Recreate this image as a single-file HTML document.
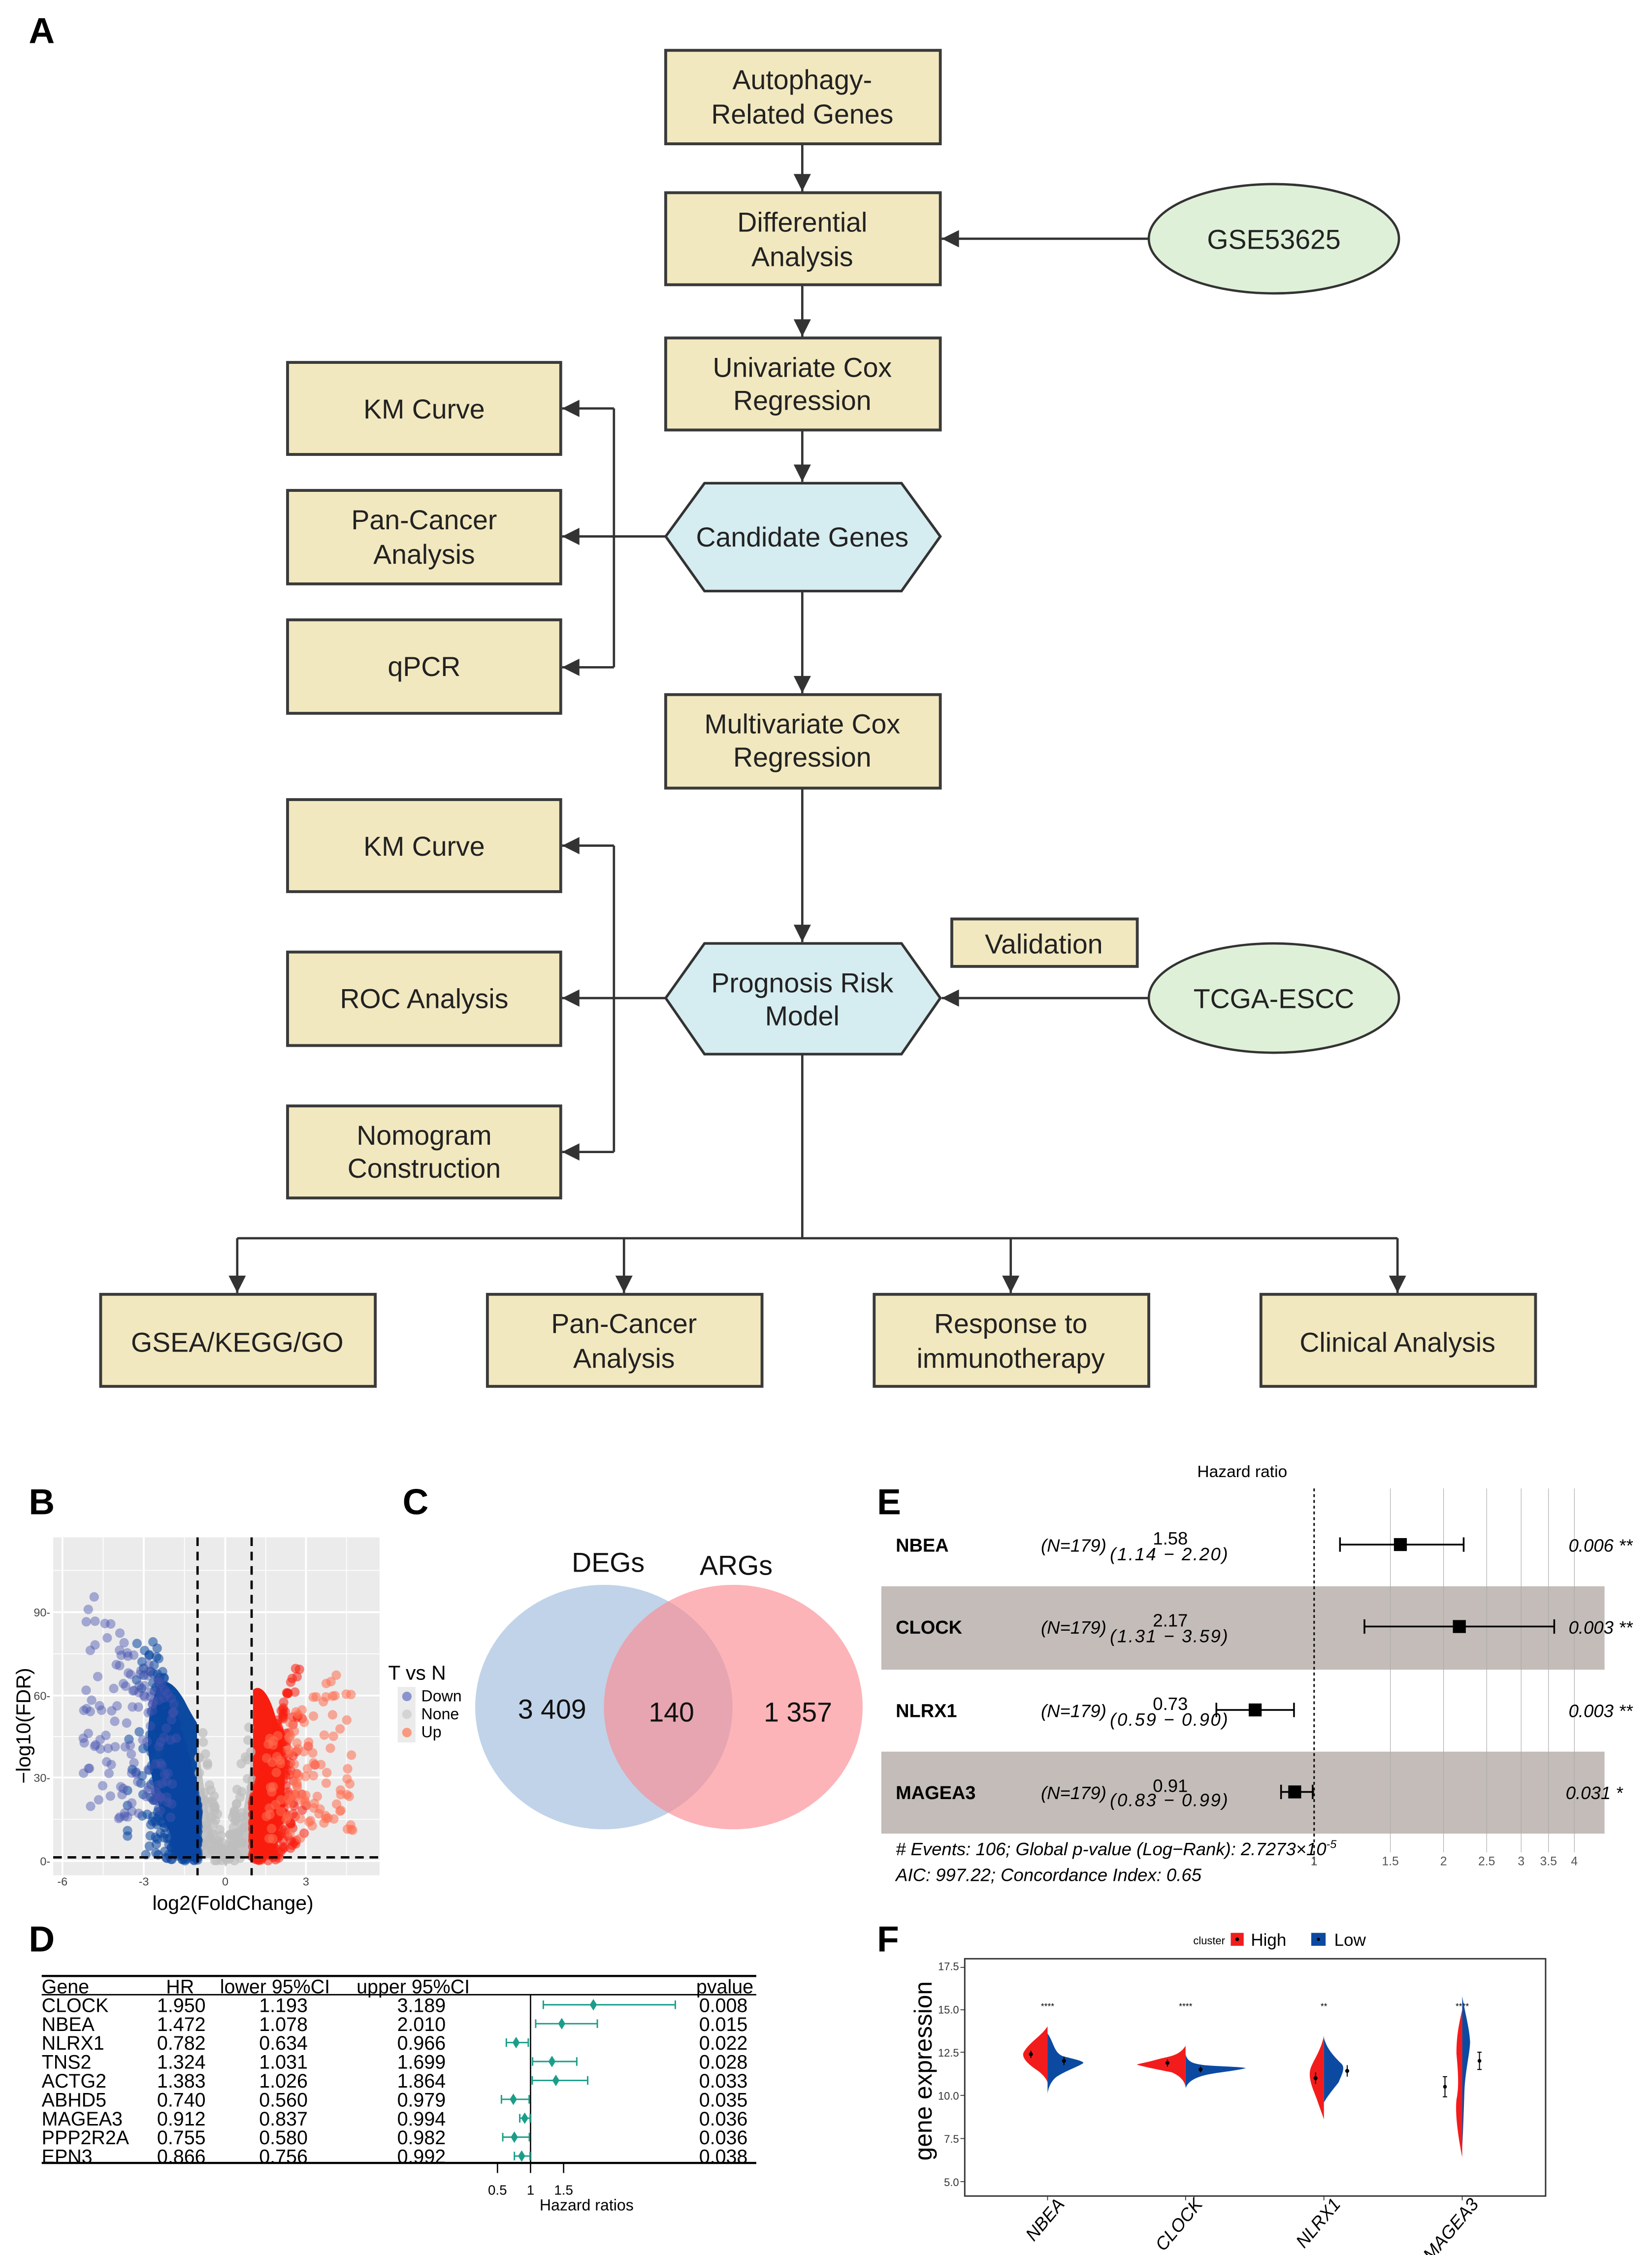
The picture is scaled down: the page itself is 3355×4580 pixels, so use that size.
<!DOCTYPE html>
<html><head><meta charset="utf-8">
<style>
html,body{margin:0;padding:0;background:#fff;}
svg{display:block;}
.fc{font-family:"Liberation Sans",sans-serif;font-size:19px;fill:#222;text-anchor:middle;}
.bx{fill:#f2e8bf;stroke:#3a3a3a;stroke-width:2;}
.ln{stroke:#333;stroke-width:1.6;fill:none;}
.lab{font-family:"Liberation Sans",sans-serif;font-weight:bold;font-size:25px;fill:#000;}
.n{font-family:"Liberation Sans Narrow","Liberation Sans",sans-serif;}
</style></head>
<body>
<svg id="s" width="3355" height="4580" viewBox="0 0 1149 1568" preserveAspectRatio="none" xmlns="http://www.w3.org/2000/svg">
<defs>
<marker id="arw" viewBox="0 0 10 10" refX="10" refY="5" markerWidth="14" markerHeight="12" orient="auto" markerUnits="userSpaceOnUse">
<path d="M0,0 L10,5 L0,10 z" fill="#333"/></marker>
<clipPath id="cpB"><rect x="37" y="1069" width="227" height="235"/></clipPath>
</defs>

<!-- ===== Panel A ===== -->
<text class="lab" x="20" y="30">A</text>
<line class="ln" x1="558" y1="100" x2="558" y2="133" marker-end="url(#arw)"/>
<line class="ln" x1="558" y1="198" x2="558" y2="234" marker-end="url(#arw)"/>
<line class="ln" x1="558" y1="299" x2="558" y2="335" marker-end="url(#arw)"/>
<line class="ln" x1="558" y1="411" x2="558" y2="482" marker-end="url(#arw)"/>
<line class="ln" x1="558" y1="548" x2="558" y2="655" marker-end="url(#arw)"/>
<line class="ln" x1="799" y1="166" x2="655" y2="166" stroke-width="2.5" marker-end="url(#arw)"/>
<line class="ln" x1="799" y1="694" x2="655" y2="694" stroke-width="2.5" marker-end="url(#arw)"/>
<polyline class="ln" points="427,284 427,464"/>
<line class="ln" x1="427" y1="284" x2="391" y2="284" marker-end="url(#arw)"/>
<line class="ln" x1="463" y1="373" x2="391" y2="373" marker-end="url(#arw)" stroke-width="2.2"/>
<line class="ln" x1="427" y1="464" x2="391" y2="464" marker-end="url(#arw)"/>
<polyline class="ln" points="427,588 427,801"/>
<line class="ln" x1="427" y1="588" x2="391" y2="588" marker-end="url(#arw)"/>
<line class="ln" x1="463" y1="694" x2="391" y2="694" marker-end="url(#arw)" stroke-width="2.2"/>
<line class="ln" x1="427" y1="801" x2="391" y2="801" marker-end="url(#arw)"/>
<line class="ln" x1="558" y1="733" x2="558" y2="861"/>
<line class="ln" x1="165" y1="861" x2="972" y2="861" stroke-width="2.2"/>
<line class="ln" x1="165" y1="861" x2="165" y2="899" marker-end="url(#arw)"/>
<line class="ln" x1="434" y1="861" x2="434" y2="899" marker-end="url(#arw)"/>
<line class="ln" x1="703" y1="861" x2="703" y2="899" marker-end="url(#arw)"/>
<line class="ln" x1="972" y1="861" x2="972" y2="899" marker-end="url(#arw)"/>

<rect class="bx" x="463" y="35" width="191" height="65"/>
<text class="fc" x="558" y="62">Autophagy-</text><text class="fc" x="558" y="86">Related Genes</text>
<rect class="bx" x="463" y="134" width="191" height="64"/>
<text class="fc" x="558" y="161">Differential</text><text class="fc" x="558" y="185">Analysis</text>
<ellipse cx="886" cy="166" rx="87" ry="38" fill="#dff0d8" stroke="#333" stroke-width="1.6"/>
<text class="fc" x="886" y="173">GSE53625</text>
<rect class="bx" x="463" y="235" width="191" height="64"/>
<text class="fc" x="558" y="262">Univariate Cox</text><text class="fc" x="558" y="285">Regression</text>
<polygon points="463,373 490,336 627,336 654,373 627,411 490,411" fill="#d5ecf0" stroke="#333" stroke-width="1.8"/>
<text class="fc" x="558" y="380">Candidate Genes</text>
<rect class="bx" x="200" y="252" width="190" height="64"/>
<text class="fc" x="295" y="291">KM Curve</text>
<rect class="bx" x="200" y="341" width="190" height="65"/>
<text class="fc" x="295" y="368">Pan-Cancer</text><text class="fc" x="295" y="392">Analysis</text>
<rect class="bx" x="200" y="431" width="190" height="65"/>
<text class="fc" x="295" y="470">qPCR</text>
<rect class="bx" x="463" y="483" width="191" height="65"/>
<text class="fc" x="558" y="510">Multivariate Cox</text><text class="fc" x="558" y="533">Regression</text>
<rect class="bx" x="200" y="556" width="190" height="64"/>
<text class="fc" x="295" y="595">KM Curve</text>
<rect class="bx" x="200" y="662" width="190" height="65"/>
<text class="fc" x="295" y="701">ROC Analysis</text>
<rect class="bx" x="200" y="769" width="190" height="64"/>
<text class="fc" x="295" y="796">Nomogram</text><text class="fc" x="295" y="819">Construction</text>
<polygon points="463,694 490,656 627,656 654,694 627,733 490,733" fill="#d5ecf0" stroke="#333" stroke-width="1.8"/>
<text class="fc" x="558" y="690">Prognosis Risk</text><text class="fc" x="558" y="713">Model</text>
<rect class="bx" x="662" y="639" width="129" height="33"/>
<text class="fc" x="726" y="663">Validation</text>
<ellipse cx="886" cy="694" rx="87" ry="38" fill="#dff0d8" stroke="#333" stroke-width="1.6"/>
<text class="fc" x="886" y="701">TCGA-ESCC</text>
<rect class="bx" x="70" y="900" width="191" height="64"/>
<text class="fc" x="165" y="940">GSEA/KEGG/GO</text>
<rect class="bx" x="339" y="900" width="191" height="64"/>
<text class="fc" x="434" y="927">Pan-Cancer</text><text class="fc" x="434" y="951">Analysis</text>
<rect class="bx" x="608" y="900" width="191" height="64"/>
<text class="fc" x="703" y="927">Response to</text><text class="fc" x="703" y="951">immunotherapy</text>
<rect class="bx" x="877" y="900" width="191" height="64"/>
<text class="fc" x="972" y="940">Clinical Analysis</text>

<!-- ===== Panel B ===== -->
<text class="lab" x="20" y="1053">B</text>
<rect x="37" y="1069" width="227" height="235" fill="#ebebeb"/>
<g stroke="#fff" stroke-width="0.6">
<line x1="71.7" y1="1069" x2="71.7" y2="1304"/><line x1="128.3" y1="1069" x2="128.3" y2="1304"/><line x1="184.8" y1="1069" x2="184.8" y2="1304"/><line x1="241" y1="1069" x2="241" y2="1304"/>
<line x1="37" y1="1265" x2="264" y2="1265"/><line x1="37" y1="1207.5" x2="264" y2="1207.5"/><line x1="37" y1="1150" x2="264" y2="1150"/><line x1="37" y1="1092" x2="264" y2="1092"/>
</g>
<g stroke="#fff" stroke-width="1.3">
<line x1="43.4" y1="1069" x2="43.4" y2="1304"/><line x1="100" y1="1069" x2="100" y2="1304"/><line x1="156.7" y1="1069" x2="156.7" y2="1304"/><line x1="212.8" y1="1069" x2="212.8" y2="1304"/>
<line x1="37" y1="1294" x2="264" y2="1294"/><line x1="37" y1="1236" x2="264" y2="1236"/><line x1="37" y1="1179" x2="264" y2="1179"/><line x1="37" y1="1121" x2="264" y2="1121"/>
</g>
<g clip-path="url(#cpB)">
<path d="M137,1205 C142,1250 148,1285 157,1298 C166,1285 172,1250 176,1210 L176,1292 L137,1292 Z" fill="#c4c4c4"/>
<path d="M137,1292 L126,1286 C116,1274 108,1255 104,1225 C101,1205 104,1185 110,1172 C116,1166 122,1172 128,1182 C132,1190 135,1195 137,1198 Z" fill="#0b4aa0"/>
<path d="M176,1292 L176,1175 C182,1170 188,1180 192,1195 C198,1215 200,1240 196,1262 C192,1278 186,1287 176,1292 Z" fill="#f81f10"/>
<g id="scat"></g>
</g>
<line x1="137.4" y1="1069" x2="137.4" y2="1304" stroke="#000" stroke-width="1.6" stroke-dasharray="6,4"/>
<line x1="175" y1="1069" x2="175" y2="1304" stroke="#000" stroke-width="1.6" stroke-dasharray="6,4"/>
<line x1="37" y1="1291.5" x2="264" y2="1291.5" stroke="#000" stroke-width="1.6" stroke-dasharray="6,4"/>
<g class="n" font-size="8" fill="#444">
<text x="43.4" y="1311" text-anchor="middle">-6</text><text x="100" y="1311" text-anchor="middle">-3</text><text x="156.7" y="1311" text-anchor="middle">0</text><text x="212.8" y="1311" text-anchor="middle">3</text>
<text x="35" y="1297" text-anchor="end">0-</text><text x="35" y="1239" text-anchor="end">30-</text><text x="35" y="1182" text-anchor="end">60-</text><text x="35" y="1124" text-anchor="end">90-</text>
</g>
<text x="162" y="1328" font-family="Liberation Sans,sans-serif" font-size="14" text-anchor="middle">log2(FoldChange)</text>
<text transform="translate(21,1200) rotate(-90)" font-family="Liberation Sans,sans-serif" font-size="14" text-anchor="middle">−log10(FDR)</text>
<text x="270" y="1168" font-family="Liberation Sans,sans-serif" font-size="14">T vs N</text>
<rect x="276.6" y="1173" width="12.4" height="38.6" fill="#ebebeb"/>
<circle cx="283" cy="1179.6" r="3.3" fill="#8a93cc"/><circle cx="283" cy="1192" r="3.3" fill="#d4d4d4"/><circle cx="283" cy="1204.7" r="3.3" fill="#f99a80"/>
<g font-family="Liberation Sans,sans-serif" font-size="11"><text x="293" y="1183">Down</text><text x="293" y="1195.5">None</text><text x="293" y="1208">Up</text></g>

<!-- ===== Panel C ===== -->
<text class="lab" x="280" y="1053">C</text>
<ellipse cx="420" cy="1187" rx="89.5" ry="85" fill="#c0d3e9"/>
<ellipse cx="510" cy="1187" rx="90" ry="85" fill="#fa8c92" fill-opacity="0.65"/>
<g font-family="Liberation Sans,sans-serif" font-size="19" text-anchor="middle" fill="#111">
<text x="423" y="1093">DEGs</text><text x="512" y="1095">ARGs</text>
<text x="384" y="1195">3 409</text><text x="467" y="1197">140</text><text x="555" y="1197">1 357</text>
</g>

<!-- ===== Panel E ===== -->
<text class="lab" x="610" y="1053">E</text>
<text x="864" y="1027" font-family="Liberation Sans,sans-serif" font-size="11.5" text-anchor="middle">Hazard ratio</text>
<rect x="613" y="1103" width="503" height="58" fill="#c3bcb8"/>
<rect x="613" y="1218" width="503" height="57" fill="#c3bcb8"/>
<g stroke="#aaa" stroke-width="0.4">
<line x1="967" y1="1035" x2="967" y2="1288"/><line x1="1004" y1="1035" x2="1004" y2="1288"/><line x1="1034" y1="1035" x2="1034" y2="1288"/><line x1="1058" y1="1035" x2="1058" y2="1288"/><line x1="1077" y1="1035" x2="1077" y2="1288"/><line x1="1095" y1="1035" x2="1095" y2="1288"/>
</g>
<line x1="914" y1="1035" x2="914" y2="1297" stroke="#000" stroke-width="1" stroke-dasharray="2,2"/>
<g font-family="Liberation Sans,sans-serif" font-size="8.5" fill="#555" text-anchor="middle">
<text x="914" y="1297">1</text><text x="967" y="1297">1.5</text><text x="1004" y="1297">2</text><text x="1034" y="1297">2.5</text><text x="1058" y="1297">3</text><text x="1077" y="1297">3.5</text><text x="1095" y="1297">4</text>
</g>
<g font-family="Liberation Sans,sans-serif" font-size="13">
<g font-weight="bold"><text x="623" y="1079">NBEA</text><text x="623" y="1136">CLOCK</text><text x="623" y="1194">NLRX1</text><text x="623" y="1251">MAGEA3</text></g>
<g font-style="italic" font-size="12.5">
<text x="724" y="1079">(N=179)</text><text x="724" y="1136">(N=179)</text><text x="724" y="1194">(N=179)</text><text x="724" y="1251">(N=179)</text>
<text x="772" y="1085" textLength="82">(1.14 − 2.20)</text><text x="772" y="1142" textLength="82">(1.31 − 3.59)</text><text x="772" y="1200" textLength="82">(0.59 − 0.90)</text><text x="772" y="1256" textLength="82">(0.83 − 0.99)</text>
<text x="1091" y="1079">0.006 **</text><text x="1091" y="1136">0.003 **</text><text x="1091" y="1194">0.003 **</text><text x="1089" y="1251">0.031 *</text>
</g>
<g font-size="12.5" text-anchor="middle"><text x="814" y="1074">1.58</text><text x="814" y="1131">2.17</text><text x="814" y="1189">0.73</text><text x="814" y="1246">0.91</text></g>
<g font-style="italic" font-size="12.5"><text x="623" y="1290"># Events: 106; Global p-value (Log−Rank): 2.7273×10<tspan dy="-5" font-size="8">-5</tspan></text>
<text x="623" y="1308">AIC: 997.22; Concordance Index: 0.65</text></g>
</g>
<g stroke="#000" stroke-width="1.2">
<line x1="932" y1="1074" x2="1018" y2="1074"/><line x1="932" y1="1069" x2="932" y2="1079"/><line x1="1018" y1="1069" x2="1018" y2="1079"/>
<line x1="949" y1="1131" x2="1081" y2="1131"/><line x1="949" y1="1126" x2="949" y2="1136"/><line x1="1081" y1="1126" x2="1081" y2="1136"/>
<line x1="846" y1="1189" x2="900" y2="1189"/><line x1="846" y1="1184" x2="846" y2="1194"/><line x1="900" y1="1184" x2="900" y2="1194"/>
<line x1="891" y1="1246" x2="914" y2="1246"/><line x1="891" y1="1241" x2="891" y2="1251"/><line x1="913" y1="1241" x2="913" y2="1251"/>
</g>
<rect x="969.5" y="1069.5" width="9" height="9"/><rect x="1010.5" y="1126.5" width="9" height="9"/><rect x="868.5" y="1184.5" width="9" height="9"/><rect x="896" y="1241.5" width="9" height="9"/>

<!-- ===== Panel D ===== -->
<text class="lab" x="20" y="1357">D</text>
<line x1="29" y1="1374" x2="526" y2="1374" stroke="#000" stroke-width="1.5"/>
<line x1="29" y1="1387" x2="526" y2="1387" stroke="#000" stroke-width="1"/>
<line x1="29" y1="1504" x2="526" y2="1504" stroke="#000" stroke-width="1.5"/>
<line x1="369" y1="1387" x2="369" y2="1511" stroke="#000" stroke-width="0.9"/>
<line x1="346" y1="1504" x2="346" y2="1511" stroke="#000" stroke-width="0.9"/>
<line x1="392" y1="1504" x2="392" y2="1511" stroke="#000" stroke-width="0.9"/>
<g class="n" font-size="13.5" fill="#000">
<text x="29" y="1386">Gene</text><text x="135" y="1386" text-anchor="end">HR</text><text x="153" y="1386">lower 95%CI</text><text x="248" y="1386">upper 95%CI</text><text x="524" y="1386" text-anchor="end">pvalue</text>
</g>
<g id="drows" class="n" font-size="13.5"></g>
<g class="n" font-size="9.5" text-anchor="middle"><text x="346" y="1526">0.5</text><text x="369" y="1526">1</text><text x="392" y="1526">1.5</text></g>
<text x="408" y="1537" class="n" font-size="11" text-anchor="middle">Hazard ratios</text>

<!-- ===== Panel F ===== -->
<text class="lab" x="610" y="1357">F</text>
<g font-family="Liberation Sans,sans-serif">
<text x="841" y="1352" font-size="7.5" text-anchor="middle">cluster</text>
<rect x="856" y="1344" width="9" height="9" fill="#f31c1c"/><circle cx="860.5" cy="1348.5" r="1.3"/>
<text x="870" y="1353" font-size="12">High</text>
<rect x="912" y="1344" width="10" height="9" fill="#0c4aa2"/><circle cx="917" cy="1348.5" r="1.1"/>
<text x="928" y="1353" font-size="12">Low</text>
</g>
<rect x="671" y="1362" width="404" height="165" fill="#fff" stroke="#333" stroke-width="1"/>
<g class="n" font-size="7.5" text-anchor="end" fill="#333">
<text x="667" y="1370">17.5</text><text x="667" y="1400">15.0</text><text x="667" y="1430">12.5</text><text x="667" y="1460">10.0</text><text x="667" y="1490">7.5</text><text x="667" y="1520">5.0</text>
</g>
<g stroke="#333" stroke-width="0.6">
<line x1="668" y1="1368" x2="671" y2="1368"/><line x1="668" y1="1397.5" x2="671" y2="1397.5"/><line x1="668" y1="1427" x2="671" y2="1427"/><line x1="668" y1="1457" x2="671" y2="1457"/><line x1="668" y1="1487" x2="671" y2="1487"/><line x1="668" y1="1517" x2="671" y2="1517"/>
<line x1="728.6" y1="1527" x2="728.6" y2="1530"/><line x1="824.6" y1="1527" x2="824.6" y2="1530"/><line x1="920.8" y1="1527" x2="920.8" y2="1530"/><line x1="1017" y1="1527" x2="1017" y2="1530"/>
</g>
<text transform="translate(648,1440) rotate(-90)" font-family="Liberation Sans,sans-serif" font-size="17" text-anchor="middle">gene expression</text>
<g font-family="Liberation Sans,sans-serif" font-size="6" text-anchor="middle"><text x="728.6" y="1397">****</text><text x="824.6" y="1397">****</text><text x="920.8" y="1397">**</text><text x="1017" y="1397">****</text></g>
<path d="M728.6,1409 C724,1416 716,1420 712,1427 C710,1431 716,1436 722,1440 C726,1443 728,1446 728.6,1448 Z" fill="#f31c1c"/>
<path d="M728.6,1414 C733,1420 733,1428 740,1430 C748,1432 753,1433 753.6,1434.5 C750,1437 741,1440 735,1444 C731,1447 729,1452 728.6,1456 Z" fill="#0c4aa2"/>
<path d="M824.6,1422.5 C820,1430 812,1430 805,1432 C798,1434 792,1435 790.6,1435.6 C795,1437 805,1439 815,1441 C822,1444 824,1448 824.6,1451 Z" fill="#f31c1c"/>
<path d="M824.6,1428.4 C826,1434 830,1435 838,1436 C850,1437 862,1437 866.6,1438 C860,1440 846,1441 838,1443 C830,1445 826,1448 824.6,1452 Z" fill="#0c4aa2"/>
<path d="M920.8,1415.4 C919,1425 914,1432 912,1437 C909,1444 913,1452 916,1460 C918,1466 920,1471 920.8,1473.7 Z" fill="#f31c1c"/>
<path d="M920.8,1417 C923,1425 928,1430 933,1435 C936,1438 933,1443 931,1448 C927,1453 923,1458 920.8,1462 Z" fill="#0c4aa2"/>
<path d="M1017,1397.5 C1014,1410 1013,1418 1013,1428 C1014,1440 1015,1450 1013,1460 C1012,1470 1014,1485 1017,1500 Z" fill="#f31c1c"/>
<path d="M1017,1388 C1019,1400 1022,1410 1022.5,1420 C1022,1430 1019,1440 1018.5,1455 C1018,1470 1017.5,1485 1017,1493 Z" fill="#0c4aa2"/>
<g stroke="#000" stroke-width="0.7">
<line x1="717" y1="1426" x2="717" y2="1431"/><line x1="740" y1="1430" x2="740" y2="1436"/>
<line x1="812" y1="1432" x2="812" y2="1437"/><line x1="835" y1="1437" x2="835" y2="1441"/>
<line x1="915" y1="1441" x2="915" y2="1449"/><line x1="937" y1="1436" x2="937" y2="1444"/>
<line x1="1005" y1="1444" x2="1005" y2="1458"/><line x1="1003.5" y1="1444" x2="1006.5" y2="1444"/><line x1="1003.5" y1="1458" x2="1006.5" y2="1458"/>
<line x1="1029" y1="1427" x2="1029" y2="1439"/><line x1="1027.5" y1="1427" x2="1030.5" y2="1427"/><line x1="1027.5" y1="1439" x2="1030.5" y2="1439"/>
</g>
<g fill="#000"><circle cx="717" cy="1428.4" r="1.4"/><circle cx="740" cy="1433" r="1.4"/><circle cx="812" cy="1434.4" r="1.4"/><circle cx="835" cy="1439" r="1.4"/><circle cx="915" cy="1445" r="1.4"/><circle cx="937" cy="1440" r="1.4"/><circle cx="1005" cy="1451" r="1.3"/><circle cx="1029" cy="1433" r="1.3"/></g>
<g font-family="Liberation Sans,sans-serif" font-size="12.5" font-style="italic" text-anchor="end">
<text transform="translate(741,1533) rotate(-50)">NBEA</text>
<text transform="translate(837,1533) rotate(-50)">CLOCK</text>
<text transform="translate(933,1533) rotate(-50)">NLRX1</text>
<text transform="translate(1029,1533) rotate(-50)">MAGEA3</text>
</g>
</svg>
<script>
(function(){
var NS="http://www.w3.org/2000/svg";
var seed=12345;function r(){seed=(seed*1103515245+12345)%2147483648;return seed/2147483648;}
function gs(){return Math.sqrt(-2*Math.log(r()+1e-9))*Math.cos(6.2832*r());}
var g=document.getElementById("scat");
function X(v){return 156.7+v*18.9;}function Y(v){return 1294-v*1.92;}
function dot(x,y,c){var e=document.createElementNS(NS,"circle");e.setAttribute("cx",x.toFixed(1));e.setAttribute("cy",y.toFixed(1));e.setAttribute("r","3.3");e.setAttribute("fill",c);g.appendChild(e);}
var i,a,fc,f;
/* gray V */
for(i=0;i<120;i++){fc=(r()*2-1)*1.0;f=Math.abs(fc)*r()*60;dot(X(fc),Y(f),"rgba(190,190,190,0.7)");}
/* blue dense */
for(i=0;i<900;i++){a=Math.abs(gs())*0.85;if(a>2.6)a=2.6;fc=-(1+a);f=Math.pow(r(),0.8)*Math.min(80,20+a*38);dot(X(fc),Y(f),"rgba(10,70,160,0.55)");}
/* blue sparse */
for(i=0;i<140;i++){a=0.8+r()*3.5;fc=-(1+a);f=15+r()*(35+a*12);if(f>112)f=112;dot(X(fc),Y(f),"rgba(70,85,175,0.45)");}
/* red dense */
for(i=0;i<700;i++){a=Math.abs(gs())*0.7;if(a>2.3)a=2.3;fc=1+a;f=Math.pow(r(),0.8)*Math.min(70,22+a*32);dot(X(fc),Y(f),"rgba(250,30,15,0.55)");}
/* red sparse */
for(i=0;i<110;i++){a=0.5+r()*3.2;fc=1+a;f=8+r()*(30+a*10);if(f>95)f=95;dot(X(fc),Y(f),"rgba(255,110,80,0.55)");}
var rows=[["CLOCK","1.950","1.193","3.189","0.008"],["NBEA","1.472","1.078","2.010","0.015"],["NLRX1","0.782","0.634","0.966","0.022"],["TNS2","1.324","1.031","1.699","0.028"],["ACTG2","1.383","1.026","1.864","0.033"],["ABHD5","0.740","0.560","0.979","0.035"],["MAGEA3","0.912","0.837","0.994","0.036"],["PPP2R2A","0.755","0.580","0.982","0.036"],["EPN3","0.866","0.756","0.992","0.038"]];
var d=document.getElementById("drows");
function t(x,y,s,anc){var e=document.createElementNS(NS,"text");e.setAttribute("x",x);e.setAttribute("y",y);if(anc)e.setAttribute("text-anchor",anc);e.textContent=s;d.appendChild(e);}
function hx(v){return 369+(v-1)*46;}
for(i=0;i<rows.length;i++){var R=rows[i],cy=1394+i*13.15,by=cy+5;
t(29,by,R[0]);t(143,by,R[1],"end");t(214,by,R[2],"end");t(310,by,R[3],"end");t(520,by,R[4],"end");
var l=document.createElementNS(NS,"path");var x1=hx(+R[2]),x2=hx(+R[3]),xm=hx(+R[1]);
l.setAttribute("d","M"+x1+","+cy+"H"+x2+"M"+x1+","+(cy-3)+"V"+(cy+3)+"M"+x2+","+(cy-3)+"V"+(cy+3));
l.setAttribute("stroke","#1a9e8a");l.setAttribute("stroke-width","1");l.setAttribute("fill","none");d.appendChild(l);
var p=document.createElementNS(NS,"path");p.setAttribute("d","M"+xm+","+(cy-4)+"L"+(xm+2.5)+","+cy+"L"+xm+","+(cy+4)+"L"+(xm-2.5)+","+cy+"Z");p.setAttribute("fill","#1a9e8a");d.appendChild(p);}
})();
</script>
</body></html>
